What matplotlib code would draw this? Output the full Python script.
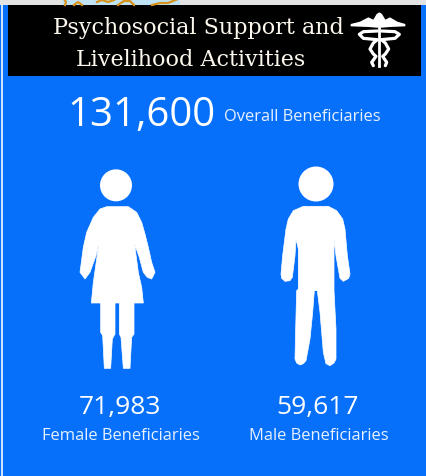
import matplotlib
matplotlib.use("Agg")
import matplotlib.pyplot as plt
from matplotlib.patches import Polygon, Circle, Rectangle

title_lines = ["Psychosocial Support and", "Livelihood Activities"]
overall_value = "131,600"
overall_label = "Overall Beneficiaries"
categories = ["Female Beneficiaries", "Male Beneficiaries"]
values = [71983, 59617]

BLUE = "#0670fb"
WHITE = "white"

fig = plt.figure(figsize=(4.27, 4.77), dpi=100, facecolor=BLUE)
ax = fig.add_axes([0, 0, 1, 1])
ax.set_xlim(0, 427)
ax.set_ylim(477, 0)
ax.axis("off")

# Window chrome
ax.add_patch(Rectangle((0, 0), 427, 6, color="#e3e3e3", lw=0, zorder=1))
ax.add_patch(Rectangle((62, 0), 118, 6, color="#bfe3f5", lw=0, zorder=2))
for xs, ys in [([64, 66, 65], [0, 3, 6]), ([74, 78, 82], [6, 3, 6]),
               ([97, 102, 108, 114], [3, 1, 3, 1]), ([118, 124, 130, 134], [6, 2, 2, 6]),
               ([152, 160, 168, 178], [6, 4, 4, 0])]:
    ax.plot(xs, ys, color="#d9921a", lw=1.6, zorder=3)
ax.add_patch(Rectangle((1, 6), 1.6, 471, color="#cfe2fb", lw=0, zorder=2))

# Title band
ax.add_patch(Rectangle((8, 6), 413, 71, color="black", lw=0, zorder=2))
ax.text(198, 28, title_lines[0], color="#fdf8ee", family="DejaVu Serif",
        fontsize=16, ha="center", va="center", zorder=4)
ax.text(190.5, 60, title_lines[1], color="#fdf8ee", family="DejaVu Serif",
        fontsize=16, ha="center", va="center", zorder=4)


def shape(pts, ox, oy):
    return [(ox + x / 3, oy + y / 3) for x, y in pts]


# Caduceus emblem (zoom coordinates)
wing = [(32, 75), (60, 68), (85, 55), (100, 62), (110, 45), (118, 40), (126, 45), (136, 62),
        (150, 55), (172, 68), (196, 75), (196, 82), (150, 84), (126, 86), (110, 86), (85, 84), (32, 82)]
ax.add_patch(Polygon(shape(wing, 340, 0), color=WHITE, lw=0, zorder=4))
ax.plot(*zip(*shape([(118, 85), (118, 200)], 340, 0)), color=WHITE, lw=2, zorder=4)
coil_l = [(112, 96), (70, 98), (58, 106), (70, 118), (112, 122), (100, 132), (90, 150), (100, 165), (108, 172), (95, 190), (100, 200)]
coil_r = [(124, 96), (165, 98), (178, 106), (165, 118), (124, 122), (136, 132), (146, 150), (136, 165), (128, 172), (140, 190), (136, 200)]
for c in (coil_l, coil_r):
    ax.plot(*zip(*shape(c, 340, 0)), color=WHITE, lw=2.3, zorder=4, solid_capstyle="round")

# Female figure
ax.add_patch(Circle((60 + 168 / 3, 160 + 79 / 3), 16, color=WHITE, lw=0, zorder=4))
female = [(140, 143), (205, 143), (230, 160), (245, 190), (255, 225), (265, 265), (275, 310), (285, 340),
          (275, 360), (262, 355), (250, 340), (238, 295), (226, 262), (222, 240), (225, 265), (235, 340),
          (245, 385), (250, 432), (222, 432), (222, 525), (215, 535), (210, 628), (190, 628), (183, 535),
          (178, 525), (178, 432), (165, 432), (165, 525), (157, 540), (152, 628), (133, 628), (128, 530),
          (122, 520), (122, 432), (94, 432), (100, 370), (115, 265), (118, 240), (108, 290), (90, 340),
          (75, 360), (60, 340), (70, 265), (80, 220), (100, 175), (120, 150)]
ax.add_patch(Polygon(shape(female, 60, 160), facecolor=WHITE, edgecolor=WHITE, lw=0.5,
                     joinstyle="round", zorder=4))

# Male figure
ax.add_patch(Circle((260 + 168 / 3, 160 + 75 / 3), 17.5, color=WHITE, lw=0, zorder=4))
male = [(130, 142), (205, 142), (230, 155), (248, 180), (255, 210), (262, 290), (270, 345), (266, 358),
        (250, 367), (240, 358), (228, 290), (222, 240), (222, 395), (228, 510), (228, 600), (222, 612), (210, 620),
        (198, 614), (190, 580), (180, 460), (172, 395), (163, 395), (158, 460), (150, 540), (138, 605), (130, 614),
        (120, 618), (110, 612), (105, 600), (107, 510), (110, 395), (115, 390), (115, 270), (108, 240), (105, 290),
        (97, 355), (90, 365), (75, 367), (65, 358), (63, 345), (68, 290), (78, 210), (85, 180), (100, 155)]
ax.add_patch(Polygon(shape(male, 260, 160), facecolor=WHITE, edgecolor=WHITE, lw=0.5,
                     joinstyle="round", zorder=4))

# Numbers and labels
ax.text(141.5, 116, overall_value, color=WHITE, family="Open Sans", fontsize=29,
        ha="center", va="center", zorder=5)
ax.text(302.5, 117, overall_label, color="#e8f1ff", family="Open Sans", fontsize=11.9,
        ha="center", va="center", zorder=5)
for cx, val, lab in zip([120, 318], values, categories):
    ax.text(cx, 408, f"{val:,}", color=WHITE, family="Open Sans", fontsize=19,
            ha="center", va="center", zorder=5)
    ax.text(cx + 1, 436, lab, color="#e8f1ff", family="Open Sans", fontsize=11.9,
            ha="center", va="center", zorder=5)

fig.savefig("out.png", dpi=100, facecolor=BLUE)
